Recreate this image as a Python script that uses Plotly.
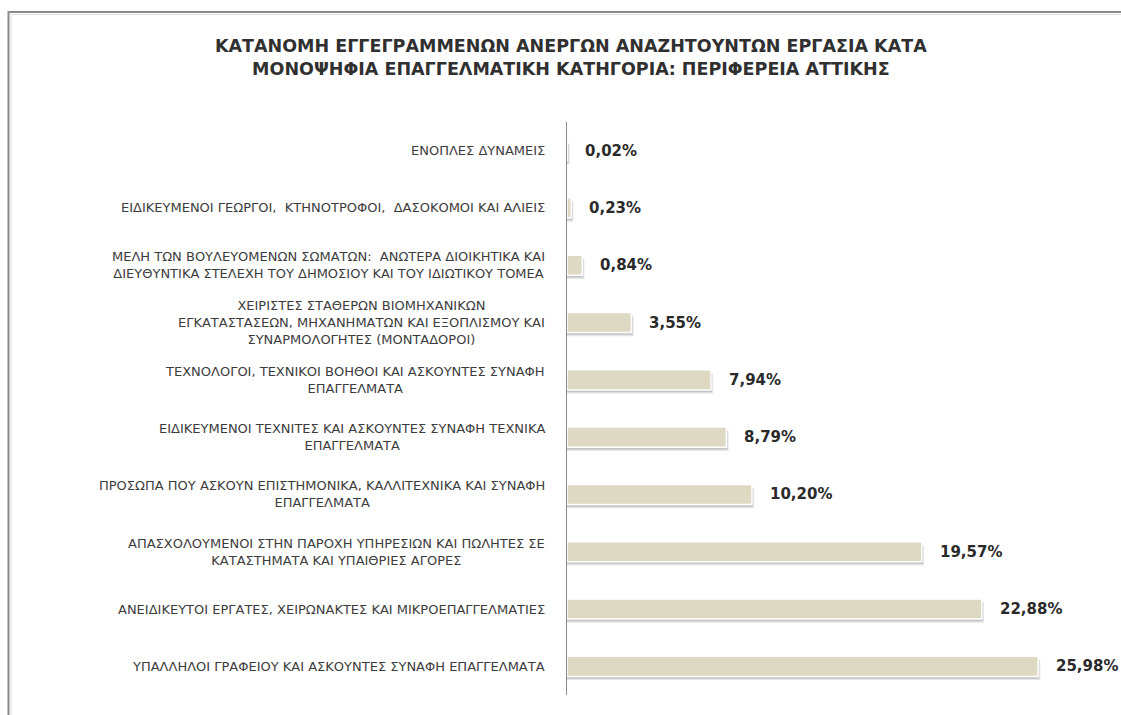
import plotly.graph_objects as go

W, H = 1121, 715

# Data (top to bottom in the picture)
categories = [
    "ΕΝΟΠΛΕΣ ΔΥΝΑΜΕΙΣ",
    "ΕΙΔΙΚΕΥΜΕΝΟΙ ΓΕΩΡΓΟΙ,  ΚΤΗΝΟΤΡΟΦΟΙ,  ΔΑΣΟΚΟΜΟΙ ΚΑΙ ΑΛΙΕΙΣ",
    "ΜΕΛΗ ΤΩΝ ΒΟΥΛΕΥΟΜΕΝΩΝ ΣΩΜΑΤΩΝ:  ΑΝΩΤΕΡΑ ΔΙΟΙΚΗΤΙΚΑ ΚΑΙ<br>ΔΙΕΥΘΥΝΤΙΚΑ ΣΤΕΛΕΧΗ ΤΟΥ ΔΗΜΟΣΙΟΥ ΚΑΙ ΤΟΥ ΙΔΙΩΤΙΚΟΥ ΤΟΜΕΑ",
    "ΧΕΙΡΙΣΤΕΣ ΣΤΑΘΕΡΩΝ ΒΙΟΜΗΧΑΝΙΚΩΝ<br>ΕΓΚΑΤΑΣΤΑΣΕΩΝ, ΜΗΧΑΝΗΜΑΤΩΝ ΚΑΙ ΕΞΟΠΛΙΣΜΟΥ ΚΑΙ<br>ΣΥΝΑΡΜΟΛΟΓΗΤΕΣ (ΜΟΝΤΑΔΟΡΟΙ)",
    "ΤΕΧΝΟΛΟΓΟΙ, ΤΕΧΝΙΚΟΙ ΒΟΗΘΟΙ ΚΑΙ ΑΣΚΟΥΝΤΕΣ ΣΥΝΑΦΗ<br>ΕΠΑΓΓΕΛΜΑΤΑ",
    "ΕΙΔΙΚΕΥΜΕΝΟΙ ΤΕΧΝΙΤΕΣ ΚΑΙ ΑΣΚΟΥΝΤΕΣ ΣΥΝΑΦΗ ΤΕΧΝΙΚΑ<br>ΕΠΑΓΓΕΛΜΑΤΑ",
    "ΠΡΟΣΩΠΑ ΠΟΥ ΑΣΚΟΥΝ ΕΠΙΣΤΗΜΟΝΙΚΑ, ΚΑΛΛΙΤΕΧΝΙΚΑ ΚΑΙ ΣΥΝΑΦΗ<br>ΕΠΑΓΓΕΛΜΑΤΑ",
    "ΑΠΑΣΧΟΛΟΥΜΕΝΟΙ ΣΤΗΝ ΠΑΡΟΧΗ ΥΠΗΡΕΣΙΩΝ ΚΑΙ ΠΩΛΗΤΕΣ ΣΕ<br>ΚΑΤΑΣΤΗΜΑΤΑ ΚΑΙ ΥΠΑΙΘΡΙΕΣ ΑΓΟΡΕΣ",
    "ΑΝΕΙΔΙΚΕΥΤΟΙ ΕΡΓΑΤΕΣ, ΧΕΙΡΩΝΑΚΤΕΣ ΚΑΙ ΜΙΚΡΟΕΠΑΓΓΕΛΜΑΤΙΕΣ",
    "ΥΠΑΛΛΗΛΟΙ ΓΡΑΦΕΙΟΥ ΚΑΙ ΑΣΚΟΥΝΤΕΣ ΣΥΝΑΦΗ ΕΠΑΓΓΕΛΜΑΤΑ",
]
values = [0.02, 0.23, 0.84, 3.55, 7.94, 8.79, 10.20, 19.57, 22.88, 25.98]
value_labels = ["0,02%", "0,23%", "0,84%", "3,55%", "7,94%", "8,79%",
                "10,20%", "19,57%", "22,88%", "25,98%"]
title_text = ("ΚΑΤΑΝΟΜΗ ΕΓΓΕΓΡΑΜΜΕΝΩΝ ΑΝΕΡΓΩΝ ΑΝΑΖΗΤΟΥΝΤΩΝ ΕΡΓΑΣΙΑ ΚΑΤΑ<br>"
              "ΜΟΝΟΨΗΦΙΑ ΕΠΑΓΓΕΛΜΑΤΙΚΗ ΚΑΤΗΓΟΡΙΑ: ΠΕΡΙΦΕΡΕΙΑ ΑΤΤΙΚΗΣ")

ycats = list(range(len(categories)))  # 0 = top row (axis reversed)

BAR_W = 0.35
fig = go.Figure()
# soft shadow under each bar
fig.add_trace(go.Bar(
    x=[v + 0.12 for v in values], y=ycats, orientation="h",
    width=BAR_W, offset=-BAR_W / 2 + 0.065,
    marker=dict(color="rgba(0,0,0,0.10)", line=dict(width=0)),
    hoverinfo="skip", showlegend=False,
))
fig.add_trace(go.Bar(
    x=[v + 0.06 for v in values], y=ycats, orientation="h",
    width=BAR_W, offset=-BAR_W / 2 + 0.04,
    marker=dict(color="rgba(0,0,0,0.14)", line=dict(width=0)),
    hoverinfo="skip", showlegend=False,
))
fig.add_trace(go.Bar(
    x=values, y=ycats, orientation="h",
    width=BAR_W, offset=-BAR_W / 2,
    marker=dict(color="#DDD9C3", line=dict(color="#FFFFFF", width=1.5)),
    showlegend=False,
))

annotations = []
for i, (c, v, lab) in enumerate(zip(categories, values, value_labels)):
    annotations.append(dict(
        x=v, y=i, xref="x", yref="y", text=lab, showarrow=False,
        xanchor="left", yanchor="middle", xshift=16,
        font=dict(family="DejaVu Sans", size=15, color="#2a2a2a", weight="bold"),
    ))
    annotations.append(dict(
        x=547 / W, y=i, xref="paper", yref="y", text=c, showarrow=False,
        xanchor="right", yanchor="middle", align="center",
        font=dict(family="DejaVu Sans", size=13, color="#3c3c3c"),
    ))

annotations.append(dict(
    x=571 / W, y=1 - 58 / H, xref="paper", yref="paper", text=title_text,
    showarrow=False, xanchor="center", yanchor="middle", align="center",
    font=dict(family="DejaVu Sans", size=17.5, color="#303030", weight="bold"),
))

shapes = [
    dict(type="rect", xref="paper", yref="paper",
         x0=8.5 / W, x1=1.02, y0=-0.02, y1=1 - 12 / H,
         line=dict(color="#8a8a8a", width=2), fillcolor="rgba(0,0,0,0)", layer="below"),
    dict(type="rect", xref="paper", yref="paper",
         x0=11 / W, x1=1.02, y0=-0.02, y1=1 - 14.5 / H,
         line=dict(color="#dcdcdc", width=1), fillcolor="rgba(0,0,0,0)", layer="below"),
]

fig.update_layout(
    width=W, height=H,
    margin=dict(l=0, r=0, t=0, b=0),
    paper_bgcolor="white", plot_bgcolor="white",
    barmode="overlay",
    annotations=annotations,
    shapes=shapes,
    xaxis=dict(domain=[567 / W, 1111 / W], range=[0, 30],
               showgrid=False, zeroline=False, showline=False,
               showticklabels=False, ticks=""),
    yaxis=dict(domain=[1 - 695 / H, 1 - 122 / H],
               range=[len(categories) - 0.5, -0.5],
               showgrid=False, zeroline=False, showline=True,
               linecolor="#8c8c8c", linewidth=1,
               showticklabels=False, ticks=""),
)

fig.write_html(
    "out.html",
    config={"displayModeBar": False},
    post_script="document.body.style.margin='0';document.body.style.overflow='hidden';",
)
